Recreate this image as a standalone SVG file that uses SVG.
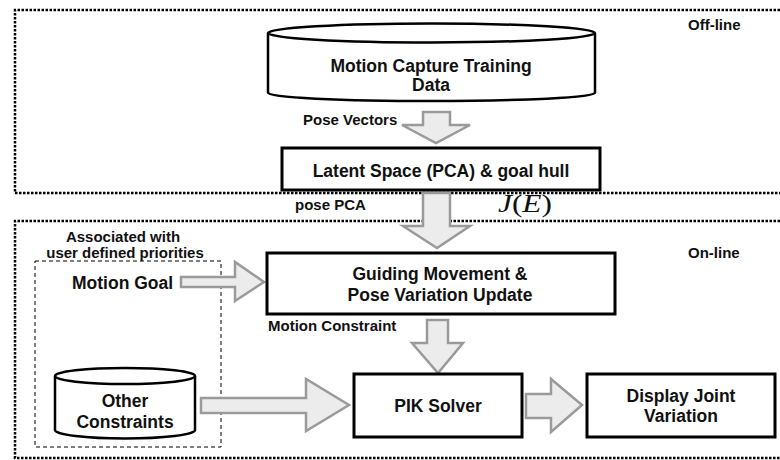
<svg xmlns="http://www.w3.org/2000/svg" width="780" height="460" viewBox="0 0 780 460">
<style>
.t{font-family:"Liberation Sans",Arial,sans-serif;font-weight:bold;fill:#111;}
.big{font-size:17.5px;}
.sm{font-size:15px;}
.box{fill:#fff;stroke:#000;stroke-width:3;}
.cyl{fill:#fff;stroke:#000;stroke-width:2.5;}
.arr{fill:#ececec;stroke:#9a9a9a;stroke-width:2.5;stroke-linejoin:miter;}
.region{fill:none;stroke:#000;stroke-width:2.5;stroke-dasharray:2.5 1.5;}
</style>
<rect width="780" height="460" fill="#fff"/>
<g id="offline">
<path class="region" d="M800,10 H15 V193 H800"/>
<text class="t sm" x="688" y="30">Off-line</text>
</g>
<g id="online">
<path class="region" d="M800,221 H15 V458 H800"/>
<text class="t sm" x="688" y="258">On-line</text>
</g>
<g id="priorities">
<rect x="35" y="261" width="186" height="186" fill="none" stroke="#000" stroke-width="1" stroke-dasharray="4 3"/>
<text class="t sm" x="123" y="242" text-anchor="middle">Associated with</text>
<text class="t sm" x="125" y="258" text-anchor="middle">user defined priorities</text>
</g>
<g id="connectors">
<path class="arr" d="M423,112 H450 V125 H470 L436,143 L402,125 H423 Z"/>
<path class="arr" d="M423,193 H450 V226 H470 L437,248 L403,226 H423 Z"/>
<path class="arr" d="M427,320 H448 V343 H463 L438,373 L412,343 H427 Z"/>
<path class="arr" d="M181,277 H235 V262 L264,282 L235,301 V287 H181 Z"/>
<path class="arr" d="M201,398 H306 V379 L349,405 L306,431 V413 H201 Z"/>
<path class="arr" d="M526,394 H551 V379 L582,405 L551,432 V418 H526 Z"/>
<text class="t sm" x="303" y="125">Pose Vectors</text>
<text class="t sm" x="295" y="210">pose PCA</text>
<text x="498" y="212" font-family="'Liberation Serif','Times New Roman',serif" font-size="25" fill="#111" textLength="54" lengthAdjust="spacingAndGlyphs"><tspan font-style="italic">J</tspan>(<tspan font-style="italic">E</tspan>)</text>
<text class="t sm" x="268" y="331">Motion Constraint</text>
</g>
<g id="mocap">
<path class="cyl" d="M268,33 V93 A163.5,8 0 0 0 595,93 V33"/>
<ellipse class="cyl" cx="431.5" cy="33" rx="163.5" ry="9.5"/>
<text class="t big" x="431" y="72" text-anchor="middle">Motion Capture Training</text>
<text class="t big" x="431" y="91" text-anchor="middle">Data</text>
</g>
<g id="latent">
<rect class="box" x="282" y="148" width="318" height="42"/>
<text class="t big" x="441" y="177" text-anchor="middle">Latent Space (PCA) &amp; goal hull</text>
</g>
<g id="motiongoal">
<text class="t big" x="72" y="289">Motion Goal</text>
</g>
<g id="guiding">
<rect class="box" x="267" y="253" width="348" height="61"/>
<text class="t big" x="440" y="280" text-anchor="middle">Guiding Movement &amp;</text>
<text class="t big" x="440" y="301" text-anchor="middle">Pose Variation Update</text>
</g>
<g id="other">
<path class="cyl" d="M55,376 V430 A70,8.5 0 0 0 195,430 V376"/>
<ellipse class="cyl" cx="125" cy="376" rx="70" ry="8"/>
<text class="t big" x="125" y="407" text-anchor="middle">Other</text>
<text class="t big" x="125" y="428" text-anchor="middle">Constraints</text>
</g>
<g id="pik">
<rect class="box" x="354" y="374" width="168" height="63"/>
<text class="t big" x="438" y="412" text-anchor="middle">PIK Solver</text>
</g>
<g id="display">
<rect class="box" x="587" y="374" width="188" height="63"/>
<text class="t big" x="681" y="402" text-anchor="middle">Display Joint</text>
<text class="t big" x="681" y="422" text-anchor="middle">Variation</text>
</g>
</svg>
